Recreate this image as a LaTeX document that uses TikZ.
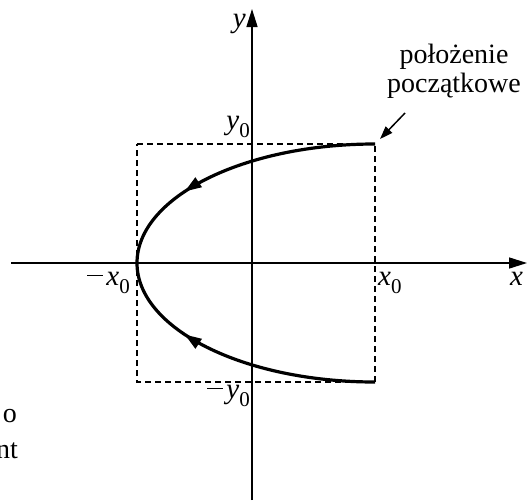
\documentclass[tikz,border=0pt]{standalone}
\usepackage{fontspec}
\setmainfont{Liberation Serif}
\usetikzlibrary{arrows.meta,decorations.markings}
\newcommand\symz[2]{\textit{#1}\raisebox{-0.28em}{\fontsize{21}{21}\selectfont #2}}
\newcommand\mns{\raisebox{0.3em}{\rule{16pt}{1.3pt}}\hspace{3pt}}
\begin{document}
\begin{tikzpicture}[x=1pt,y=-1pt,
  axis/.style={line width=1.5pt,-{Triangle[length=18pt,width=11pt]}},
  guide/.style={line width=1.2pt,dash pattern=on 6pt off 4pt},
  traj/.style={line width=3.2pt,
    postaction={decorate,decoration={markings,
      mark=at position 0.345 with {\arrow{Triangle[length=17pt,width=11pt]}},
      mark=at position 0.655 with {\arrowreversed{Triangle[length=17pt,width=11pt]}}}}},
  lab/.style={inner sep=0pt,font=\fontsize{29}{31}\selectfont},
  note/.style={inner sep=0pt,font=\fontsize{28}{29}\selectfont},
  pointer/.style={line width=1.5pt,-{Triangle[length=13pt,width=9pt]}}]
\useasboundingbox (0,0) rectangle (529,501);
% axes
\coordinate (xl) at (11,263);
\coordinate (xr) at (527,263);
\coordinate (yb) at (252,500);
\coordinate (yt) at (252,9);
\draw[axis] (xl) -- (xr);
\draw[axis] (yb) -- (yt);
% dashed box
\coordinate (tl) at (137,144);
\coordinate (tr) at (375,144);
\coordinate (br) at (375,382);
\coordinate (bl) at (137,382);
\draw[guide] (tl) -- (tr) -- (br) -- (bl) -- cycle;
% trajectory
\draw[traj] (tr) arc[start angle=270,end angle=90,x radius=238,y radius=119];
% labels
\node[lab,anchor=base west] (xlab) at (510,285) {\textit{x}};
\node[lab,anchor=base east] (ylab) at (246,27) {\textit{y}};
\node[lab,anchor=base west] (xz) at (378,285) {\symz{x}{0}};
\node[lab,anchor=base east] (mxz) at (130,285) {\mns\symz{x}{0}};
\node[lab,anchor=base east] (yz) at (250,129) {\symz{y}{0}};
\node[lab,anchor=base east] (myz) at (250,398) {\mns\symz{y}{0}};
\node[note,align=center,anchor=north] (start) at (454,44) {położenie\\początkowe};
\coordinate (ptip) at (380,139);
\coordinate (ptail) at (405,113);
\draw[pointer] (ptail) -- (ptip);
% cut-off text at the left edge
\node[note,anchor=base east] (cuto) at (17,422) {o};
\node[note,anchor=base east] (cutnt) at (18,458) {nt};
\end{tikzpicture}
\end{document}
